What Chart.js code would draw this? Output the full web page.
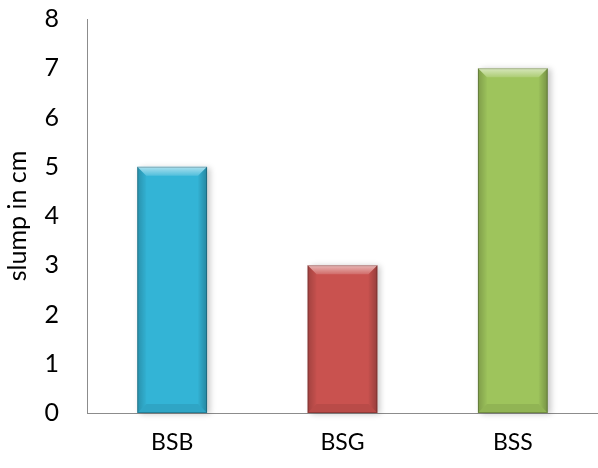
<!DOCTYPE html>
<html>
<head>
<meta charset="utf-8">
<script src="https://cdn.jsdelivr.net/npm/chart.js@4"></script>
<style>
  html, body { margin: 0; padding: 0; background: #ffffff; }
  #wrap { width: 598px; height: 468px; }
</style>
</head>
<body>
<div id="wrap"><canvas id="slump"></canvas></div>
<script>
// --- DATA ---
const mixes = ['BSB', 'BSG', 'BSS'];
const slumpCm = [5, 3, 7];
const barColors = ['#33b4d6', '#c9524f', '#9ec45c'];
const axisMin = 0;
const axisMax = 8;

// Draws a bevelled edge over every bar, using the rectangle the bar element reports
const bevelPlugin = {
    id: 'bevel',
    afterDatasetsDraw(chart) {
        const ctx = chart.ctx;
        const meta = chart.getDatasetMeta(0);
        meta.data.forEach((bar) => {
            const p = bar.getProps(['x', 'y', 'base', 'width'], true);
            const l = p.x - p.width / 2;
            const r = p.x + p.width / 2;
            const t = p.y;
            const b = p.base;
            const s = 9;
            ctx.save();
            // top face (light)
            ctx.beginPath();
            ctx.moveTo(l, t); ctx.lineTo(r, t); ctx.lineTo(r - s, t + s); ctx.lineTo(l + s, t + s); ctx.closePath();
            const gTop = ctx.createLinearGradient(0, t, 0, t + s);
            gTop.addColorStop(0, 'rgba(255,255,255,0.6)');
            gTop.addColorStop(1, 'rgba(255,255,255,0.15)');
            ctx.fillStyle = gTop;
            ctx.fill();
            // left face
            ctx.beginPath();
            ctx.moveTo(l, t); ctx.lineTo(l + s, t + s); ctx.lineTo(l + s, b - s); ctx.lineTo(l, b); ctx.closePath();
            const gLeft = ctx.createLinearGradient(l, 0, l + s, 0);
            gLeft.addColorStop(0, 'rgba(0,0,0,0.2)');
            gLeft.addColorStop(1, 'rgba(0,0,0,0.02)');
            ctx.fillStyle = gLeft;
            ctx.fill();
            // right face
            ctx.beginPath();
            ctx.moveTo(r, t); ctx.lineTo(r - s, t + s); ctx.lineTo(r - s, b - s); ctx.lineTo(r, b); ctx.closePath();
            const gRight = ctx.createLinearGradient(r, 0, r - s, 0);
            gRight.addColorStop(0, 'rgba(0,0,0,0.26)');
            gRight.addColorStop(1, 'rgba(0,0,0,0.02)');
            ctx.fillStyle = gRight;
            ctx.fill();
            // bottom face
            ctx.beginPath();
            ctx.moveTo(l, b); ctx.lineTo(r, b); ctx.lineTo(r - s, b - s); ctx.lineTo(l + s, b - s); ctx.closePath();
            ctx.fillStyle = 'rgba(0,0,0,0.08)';
            ctx.fill();
            // thin dark outline
            ctx.strokeStyle = 'rgba(0,0,0,0.22)';
            ctx.lineWidth = 1;
            ctx.strokeRect(l + 0.5, t + 0.5, p.width - 1, b - t - 1);
            ctx.restore();
        });
    }
};

// Soft shadow to the right of each bar
const shadowPlugin = {
    id: 'barShadow',
    beforeDatasetsDraw(chart) {
        const ctx = chart.ctx;
        chart.getDatasetMeta(0).data.forEach((bar) => {
            const p = bar.getProps(['x', 'y', 'base', 'width'], true);
            ctx.save();
            ctx.shadowColor = 'rgba(0,0,0,0.22)';
            ctx.shadowBlur = 6;
            ctx.shadowOffsetX = 3;
            ctx.shadowOffsetY = 1;
            ctx.fillStyle = '#ffffff';
            ctx.fillRect(p.x - p.width / 2, p.y, p.width, p.base - p.y);
            ctx.restore();
        });
    }
};

new Chart(document.getElementById('slump'), {
    type: 'bar',
    data: {
        labels: mixes,
        datasets: [{
            data: slumpCm,
            backgroundColor: barColors,
            borderWidth: 0,
            barPercentage: 0.41,
            categoryPercentage: 1.0
        }]
    },
    options: {
        responsive: true,
        maintainAspectRatio: false,
        animation: false,
        devicePixelRatio: 1,
        layout: { padding: { top: 0, right: 0, bottom: 0, left: 0 } },
        plugins: {
            legend: { display: false },
            tooltip: { enabled: false }
        },
        scales: {
            x: {
                grid: { display: false, drawTicks: false },
                border: { display: true, color: '#8c8c8c', width: 1 },
                ticks: { color: '#000000', font: { family: 'Lato', size: 23 }, padding: 16 },
                afterFit: (scale) => { scale.height = 55; }
            },
            y: {
                min: axisMin,
                max: axisMax,
                grid: { display: false, drawTicks: false },
                border: { display: true, color: '#8c8c8c', width: 1 },
                ticks: { stepSize: 1, color: '#000000', font: { family: 'Lato', size: 25 }, padding: 28 },
                title: {
                    display: true,
                    text: 'slump in cm',
                    color: '#000000',
                    font: { family: 'Lato', size: 25 },
                    padding: { top: 3, bottom: 0 }
                },
                afterFit: (scale) => {
                    scale.width = 87;
                    scale.paddingTop = 19;
                    scale.paddingBottom = 0;
                }
            }
        }
    },
    plugins: [shadowPlugin, bevelPlugin]
});
</script>
</body>
</html>
